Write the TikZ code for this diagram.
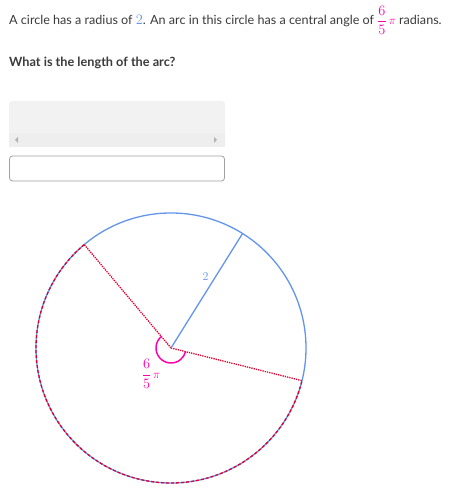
\documentclass[tikz,border=0pt]{standalone}
\usepackage{fontspec}
\setmainfont{Lato}
\usepackage{amsmath}
\usepackage{xcolor}
\usetikzlibrary{calc}
\definecolor{kablue}{HTML}{6495ED}
\definecolor{kapink}{HTML}{FF00AF}
\definecolor{kared}{HTML}{DF0030}
\definecolor{katext}{HTML}{3B3B3B}
\definecolor{kagray}{HTML}{F2F2F2}
\definecolor{kastrip}{HTML}{EEEEEE}
\definecolor{kaline}{HTML}{A0A0A0}
\newcommand{\bigmath}[1]{{\fontsize{14}{16}\selectfont$#1$}}
\newcommand{\sixfifths}{\bigmath{\dfrac{6}{5}}\,{\fontsize{12}{14}\selectfont$\pi$}}

\begin{document}
\begin{tikzpicture}[x=1pt,y=1pt]
      \useasboundingbox (0,0) rectangle (452,494);
      \fill[white] (0,0) rectangle (452,494);
      \begin{scope}[every node/.style={anchor=base west,inner sep=0pt,text=katext,font=\fontsize{12.6}{14}\selectfont}]
        \node (question) at (9,469) {A circle has a radius of \textcolor{kablue}{\bigmath{2}}. An arc in this circle has a central angle of \textcolor{kapink}{\sixfifths} radians.};
        \node[font=\bfseries\fontsize{12.7}{14}\selectfont] (ask) at (9,427) {What is the length of the arc?};
      \end{scope}
      \fill[kagray] (9,347) [rounded corners=3pt] -- (9,393) -- (225,393) [sharp corners] -- (225,347) -- cycle;
      \fill[kastrip] (9,347) rectangle (225,361);
      \fill[kaline!80] (15,354) -- (18,357) -- (18,351) -- cycle;
      \fill[kaline!80] (217,354) -- (214,357) -- (214,351) -- cycle;
      \node[draw=kaline,line width=0.8pt,rounded corners=3pt,fill=white,minimum width=215pt,minimum height=25pt,inner sep=0pt] (answer) at (117,325.5) {};
      \begin{scope}[every path/.style={line width=1.3pt}]
        \coordinate (O) at (171,146);
        \coordinate (R) at ([shift={(58:135pt)}]O);
        \coordinate (A) at ([shift={(130:135pt)}]O);
        \coordinate (B) at ([shift={(346:135pt)}]O);
        \draw[kablue] (O) circle[radius=135pt];
        \draw[kared,dash pattern=on 3pt off 2pt] (A) arc[start angle=130,end angle=346,radius=135pt];
        \draw[kared,densely dotted] (O) -- (A);
        \draw[kared,densely dotted] (O) -- (B);
        \draw[kablue] (O) -- (R) node[pos=0.62,left=3pt,text=kablue,font=\fontsize{13}{15}\selectfont] (len) {$2$};
        \draw[kapink,line width=1.5pt] ([shift={(130:15pt)}]O) arc[start angle=130,end angle=346,radius=15pt];
      \end{scope}
      \node[text=kapink,inner sep=0pt] (theta) at (151,120) {\sixfifths};
    \end{tikzpicture}
\end{document}
